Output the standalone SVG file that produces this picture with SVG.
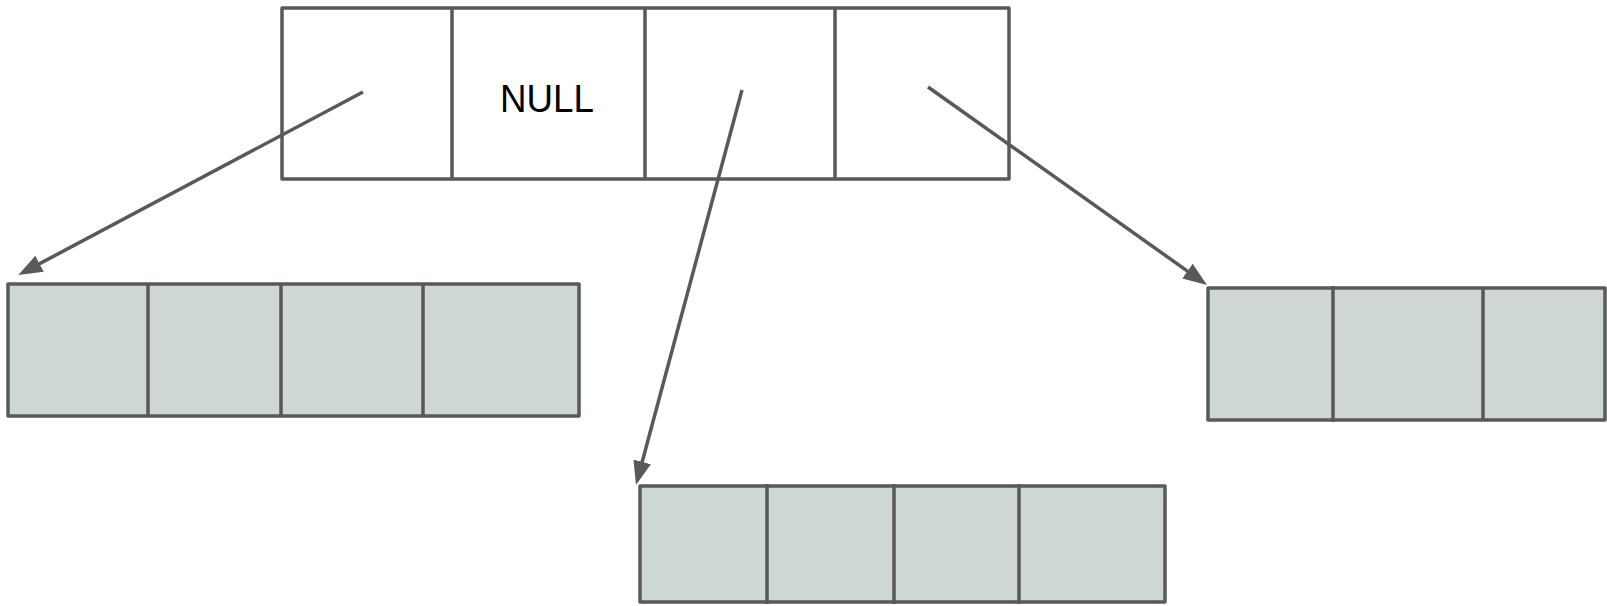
<svg xmlns="http://www.w3.org/2000/svg" width="1607" height="606" viewBox="0 0 1607 606">
<style>
.box{fill:#ffffff;stroke:#595959;stroke-width:3.5;stroke-linejoin:round}
.cell{fill:#cfd6d6;stroke:#595959;stroke-width:3.5;stroke-linejoin:round}
.div{stroke:#595959;stroke-width:3.5;fill:none}
.conn{stroke:#595959;stroke-width:3.5;fill:none}
.lbl{font-family:"Liberation Sans",Arial,sans-serif;font-size:39px;fill:#000}
</style>
<defs>
<marker id="arr" markerUnits="userSpaceOnUse" viewBox="0 0 24 18" refX="10" refY="9" markerWidth="24" markerHeight="18" orient="auto">
<path d="M0,0 L24,9 L0,18 z" fill="#595959"/>
</marker>
</defs>
<g id="top-array">
<rect class="box" x="282" y="8" width="727" height="171"/>
<line class="div" x1="452" y1="8" x2="452" y2="179"/>
<line class="div" x1="645" y1="8" x2="645" y2="179"/>
<line class="div" x1="835" y1="8" x2="835" y2="179"/>
<text class="lbl" x="547" y="112" text-anchor="middle" textLength="94" lengthAdjust="spacingAndGlyphs">NULL</text>
</g>
<g id="array-left">
<rect class="cell" x="8" y="284" width="571" height="132"/>
<line class="div" x1="148" y1="284" x2="148" y2="416"/>
<line class="div" x1="281" y1="284" x2="281" y2="416"/>
<line class="div" x1="423" y1="284" x2="423" y2="416"/>
</g>
<g id="array-middle">
<rect class="cell" x="640" y="486" width="525" height="116"/>
<line class="div" x1="767" y1="484" x2="767" y2="604"/>
<line class="div" x1="894" y1="484" x2="894" y2="604"/>
<line class="div" x1="1019" y1="484" x2="1019" y2="604"/>
</g>
<g id="array-right">
<rect class="cell" x="1208" y="288" width="397" height="132"/>
<line class="div" x1="1333" y1="286" x2="1333" y2="422"/>
<line class="div" x1="1483" y1="288" x2="1483" y2="420"/>
</g>
<g id="connectors">
<line class="conn" x1="363" y1="92" x2="30.7" y2="268.4" marker-end="url(#arr)"/>
<line class="conn" x1="742" y1="90" x2="639.6" y2="471.5" marker-end="url(#arr)"/>
<line class="conn" x1="928" y1="87" x2="1195.6" y2="276.9" marker-end="url(#arr)"/>
</g>
</svg>
